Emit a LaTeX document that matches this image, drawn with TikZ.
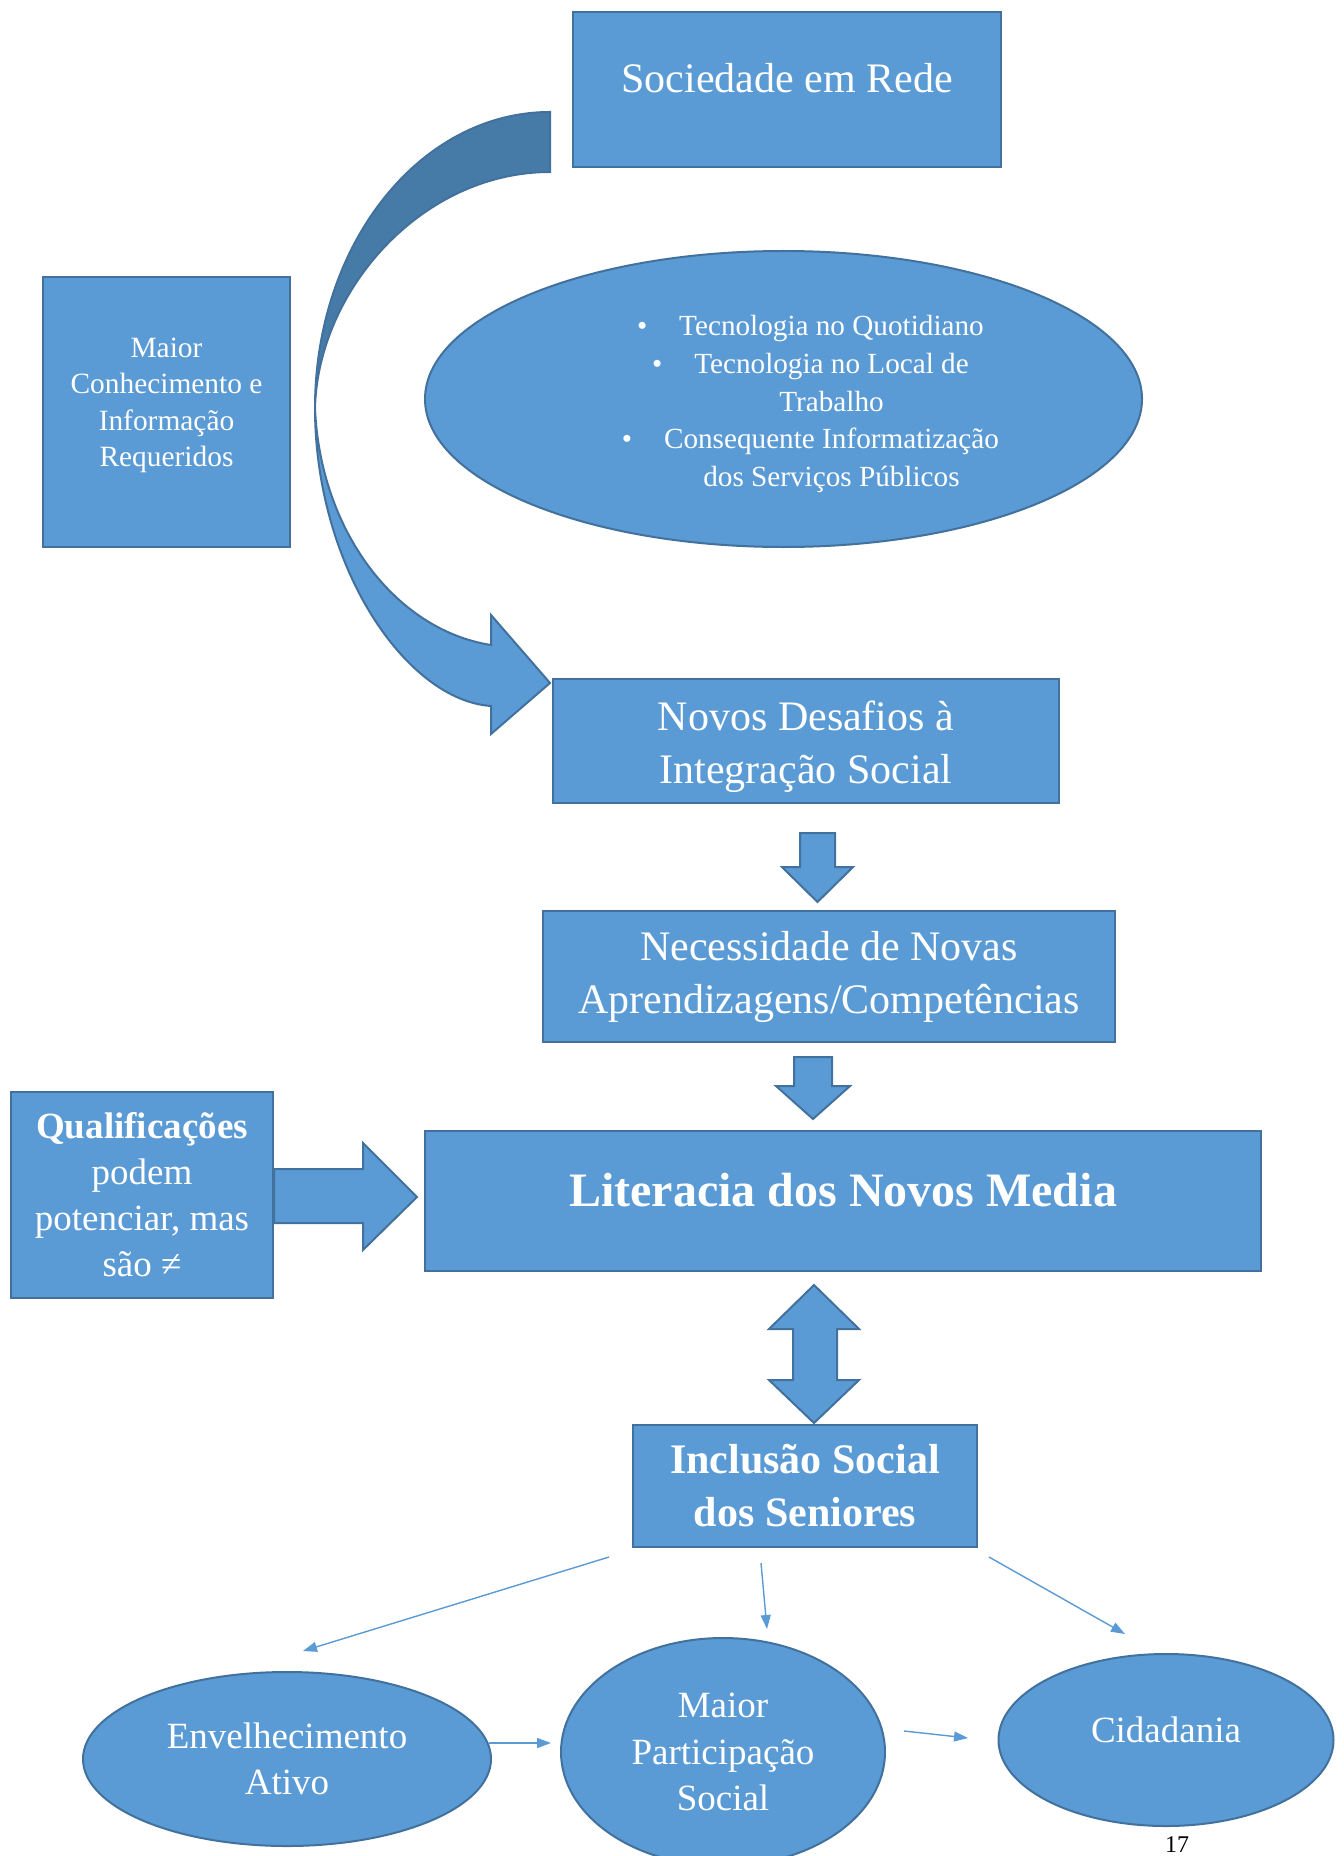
\documentclass[tikz,border=0pt]{standalone}
\usepackage{fontspec}
\setmainfont{Liberation Serif}
\usetikzlibrary{arrows.meta,shapes.geometric}
\definecolor{boxfill}{HTML}{5B9BD5}
\definecolor{boxline}{HTML}{41719C}
\definecolor{bandfill}{HTML}{477BA7}
\newcommand{\bul}{\llap{\textbullet\hspace{16pt}}}
\newcommand{\nudge}[2]{\raisebox{#1}[\height][\depth]{\begin{tabular}{@{}c@{}}#2\end{tabular}}}
\newcommand{\fs}[2]{\fontsize{#1}{#2}\selectfont}

\begin{document}
\begin{tikzpicture}[x=0.5pt,y=-0.5pt,
		blok/.style={draw=boxline,fill=boxfill,line width=1pt,text=white,align=center,inner sep=0pt},
		oval/.style={blok,ellipse},
		fat/.style={draw=boxline,fill=boxfill,line width=1pt},
		thin/.style={draw=boxfill,line width=0.7pt,-{Triangle[length=7pt,width=5pt]}}]
	\fill[white] (0,0) rectangle (1343,1856);
	\useasboundingbox (0,0) rectangle (1343,1856);
	\clip (0,0) rectangle (1343,1856);
	\filldraw[fat,fill=bandfill]
			(550,112) .. controls (420,112) and (315,244) .. (315,408)
		..	controls (318,290) and (422,172) .. (550,172) -- cycle;
	\filldraw[fat]
			(315,408) .. controls (315,565) and (405,700) .. (491,706)
		--	(491,734) -- (550,683) -- (491,615) -- (491,645)
		..	controls (395,630) and (320,530) .. (315,408) -- cycle;
	\node[blok,minimum width=214pt,minimum height=77.5pt,font=\fs{21}{26.5}] (rede) at (787,89.5) {\nudge{3.7pt}{Sociedade em Rede}};
	\node[blok,minimum width=123.5pt,minimum height=135pt,font=\fs{14.7}{18.3}] (conh) at (166.5,412) {\nudge{3.7pt}{Maior\\Conhecimento e\\Informação\\Requeridos}};
	\node[oval,minimum width=358.5pt,minimum height=148pt] (tec) at (783.5,399) {};
	\node[text=white,align=center,inner sep=0pt,font=\fs{14.6}{18.8}] (tectxt) at ([xshift=24pt,yshift=-2.5pt]tec.center)
		{\bul Tecnologia no Quotidiano\\\bul Tecnologia no Local de\\Trabalho\\\bul Consequente Informatização\\dos Serviços Públicos};
	\node[blok,minimum width=253pt,minimum height=62pt,font=\fs{21}{26.5}] (desaf) at (806,741) {\nudge{-2.85pt}{Novos Desafios à\\Integração Social}};
	\node[blok,minimum width=286pt,minimum height=65.5pt,font=\fs{21}{26.5}] (neces) at (829,976.5) {Necessidade de Novas\\Aprendizagens/Competências};
	\filldraw[fat] (274,1169) -- (363,1169) -- (363,1143) -- (417,1197) -- (363,1250) -- (363,1223) -- (274,1223) -- cycle;
	\node[blok,minimum width=131pt,minimum height=103pt,font=\fs{18.5}{23}] (qual) at (142,1195) {\textbf{Qualificações}\\podem\\potenciar, mas\\são ≠};
	\node[blok,minimum width=418pt,minimum height=70pt,font=\fs{24}{29}\bfseries] (lit) at (843,1201) {\nudge{3.2pt}{Literacia dos Novos Media}};
	\node[blok,minimum width=172pt,minimum height=61pt,font=\fs{21}{26.5}\bfseries] (incl) at (805,1486) {Inclusão Social\\dos Seniores};
	\filldraw[fat] (800,833) -- (835,833) -- (835,867) -- (853,867) -- (817.5,902) -- (782,867) -- (800,867) -- cycle;
	\filldraw[fat] (794,1057) -- (832,1057) -- (832,1086) -- (850,1086) -- (813,1119) -- (776,1086) -- (794,1086) -- cycle;
	\filldraw[fat] (814,1285) -- (859,1329) -- (837,1329) -- (837,1380) -- (859,1380) -- (814,1423)
		--	(769,1380) -- (793,1380) -- (793,1329) -- (769,1329) -- cycle;
	\node[oval,minimum width=204pt,minimum height=87pt,font=\fs{18.5}{23}] (envel) at (287,1759) {Envelhecimento\\Ativo};
	\node[oval,minimum width=162pt,minimum height=114pt,font=\fs{18.5}{23.4}] (partic) at (723,1752) {Maior\\Participação\\Social};
	\node[oval,minimum width=167.5pt,minimum height=86pt,font=\fs{18.5}{23}] (cidad) at (1166,1740) {\nudge{3.2pt}{Cidadania}};
	\coordinate (a1) at (609,1557);
	\coordinate (b1) at (303,1651);
	\coordinate (a2) at (761,1563);
	\coordinate (b2) at (767,1629);
	\coordinate (a3) at (989,1557);
	\coordinate (b3) at (1125,1634);
	\coordinate (a4) at (489,1743);
	\coordinate (b4) at (551,1743);
	\coordinate (a5) at (904,1731);
	\coordinate (b5) at (968,1738);
	\draw[thin] (a1) -- (b1);
	\draw[thin] (a2) -- (b2);
	\draw[thin] (a3) -- (b3);
	\draw[thin] (a4) -- (b4);
	\draw[thin] (a5) -- (b5);
	\node[anchor=base,font=\fs{12}{14}] (pagnum) at (1177,1852) {17};
\end{tikzpicture}
\end{document}
